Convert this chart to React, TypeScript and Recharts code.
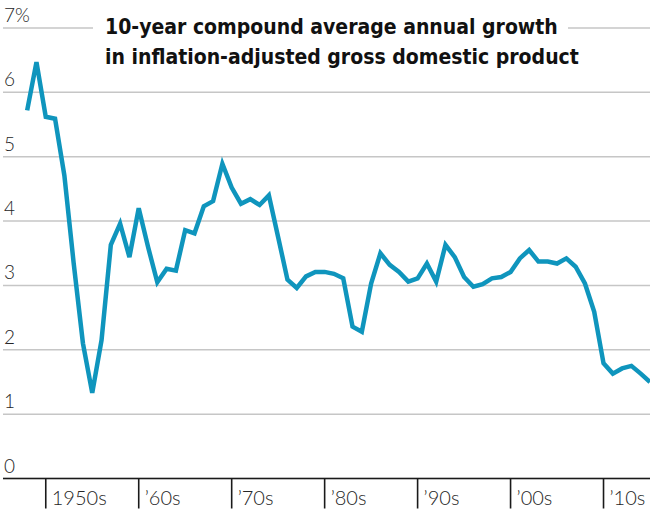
import { LineChart, Line, XAxis, YAxis, CartesianGrid } from "recharts";

// Years 1948-2015, one point per year
const years: number[] = [
	1948, 1949, 1950, 1951, 1952, 1953, 1954, 1955, 1956, 1957, 1958, 1959,
	1960, 1961, 1962, 1963, 1964, 1965, 1966, 1967, 1968, 1969,
	1970, 1971, 1972, 1973, 1974, 1975, 1976, 1977, 1978, 1979,
	1980, 1981, 1982, 1983, 1984, 1985, 1986, 1987, 1988, 1989,
	1990, 1991, 1992, 1993, 1994, 1995, 1996, 1997, 1998, 1999,
	2000, 2001, 2002, 2003, 2004, 2005, 2006, 2007, 2008, 2009,
	2010, 2011, 2012, 2013, 2014, 2015,
];

// 10-year compound average annual growth in real GDP, %
const growth: number[] = [
	5.72, 6.47, 5.62, 5.59, 4.71, 3.35, 2.1, 1.33, 2.15, 3.63, 3.96, 3.44,
	4.2, 3.6, 3.05, 3.26, 3.23, 3.86, 3.81, 4.23, 4.31, 4.89,
	4.52, 4.27, 4.34, 4.25, 4.4, 3.75, 3.09, 2.96, 3.14, 3.21,
	3.21, 3.18, 3.11, 2.36, 2.28, 3.03, 3.5, 3.32, 3.21, 3.06,
	3.11, 3.34, 3.06, 3.63, 3.44, 3.13, 2.98, 3.02, 3.11, 3.13,
	3.21, 3.42, 3.55, 3.37, 3.37, 3.34, 3.42, 3.29, 3.03, 2.59,
	1.79, 1.63, 1.71, 1.75, 1.63, 1.5,
];

const decadeTicks: number[] = [1950, 1960, 1970, 1980, 1990, 2000, 2010];
const decadeLabels: string[] = ["1950s", "’60s", "’70s", "’80s", "’90s", "’00s", "’10s"];
const yTicks: number[] = [0, 1, 2, 3, 4, 5, 6, 7];

const titleLines: string[] = [
	"10-year compound average annual growth",
	"in inflation-adjusted gross domestic product",
];

const LINE_COLOR = "#0f95bd";
const LABEL_FONT = "Lato, 'Open Sans', sans-serif";

const chartData = years.map((year, i) => ({ year, value: growth[i] }));

function YTick({ y, payload }: { y?: number; payload?: { value: number } }) {
	if (y == null || !payload) return null;
	return (
		<text
			x={4}
			y={(y as number) - 6}
			textAnchor="start"
			fill="#262626"
			fontSize={19}
			fontWeight={300}
			fontFamily={LABEL_FONT}
		>
			{payload.value === 7 ? "7%" : String(payload.value)}
		</text>
	);
}

function XTick({ x, payload }: { x?: number; payload?: { value: number } }) {
	if (x == null || !payload) return null;
	const idx = decadeTicks.indexOf(payload.value);
	return (
		<text
			x={(x as number) + 6}
			y={505}
			textAnchor="start"
			fill="#262626"
			fontSize={20}
			fontWeight={300}
			fontFamily={LABEL_FONT}
		>
			{decadeLabels[idx]}
		</text>
	);
}

export default function App() {
	return (
		<div
			style={{
				position: "absolute",
				left: 0,
				top: 0,
				width: 654,
				height: 517,
				background: "#fff",
				overflow: "hidden",
			}}
		>
			<LineChart
				width={654}
				height={517}
				data={chartData}
				margin={{ top: 28, right: 4, left: 0, bottom: 0 }}
			>
				<CartesianGrid
					horizontal
					vertical={false}
					stroke="#c6c6c6"
					strokeWidth={1.5}
				/>
				<XAxis
					dataKey="year"
					type="number"
					domain={[1945.4, 2015]}
					ticks={decadeTicks}
					allowDataOverflow
					height={38.5}
					axisLine={{ stroke: "#1a1a1a", strokeWidth: 1.6 }}
					tickLine={{ stroke: "#1a1a1a", strokeWidth: 1.6 }}
					tickSize={30}
					tick={<XTick />}
				/>
				<YAxis
					type="number"
					domain={[0, 7]}
					ticks={yTicks}
					interval={0}
					width={3}
					axisLine={false}
					tickLine={false}
					tick={<YTick />}
				/>
				<Line
					type="linear"
					dataKey="value"
					stroke={LINE_COLOR}
					strokeWidth={4.5}
					strokeLinejoin="miter"
					dot={false}
					isAnimationActive={false}
				/>
			</LineChart>
			<div
				style={{
					position: "absolute",
					left: 93,
					top: 12,
					fontFamily: "'Liberation Sans Narrow', 'DejaVu Sans Condensed', sans-serif",
					fontWeight: 700,
					fontSize: 21,
					lineHeight: "30px",
					color: "#111",
					whiteSpace: "nowrap",
				}}
			>
				{titleLines.map((line, i) => (
					<div key={line}>
						<span
							style={{
								background: i === 0 ? "#fff" : "transparent",
								padding: "0 10px 0 12px",
							}}
						>
							{line}
						</span>
					</div>
				))}
			</div>
		</div>
	);
}
